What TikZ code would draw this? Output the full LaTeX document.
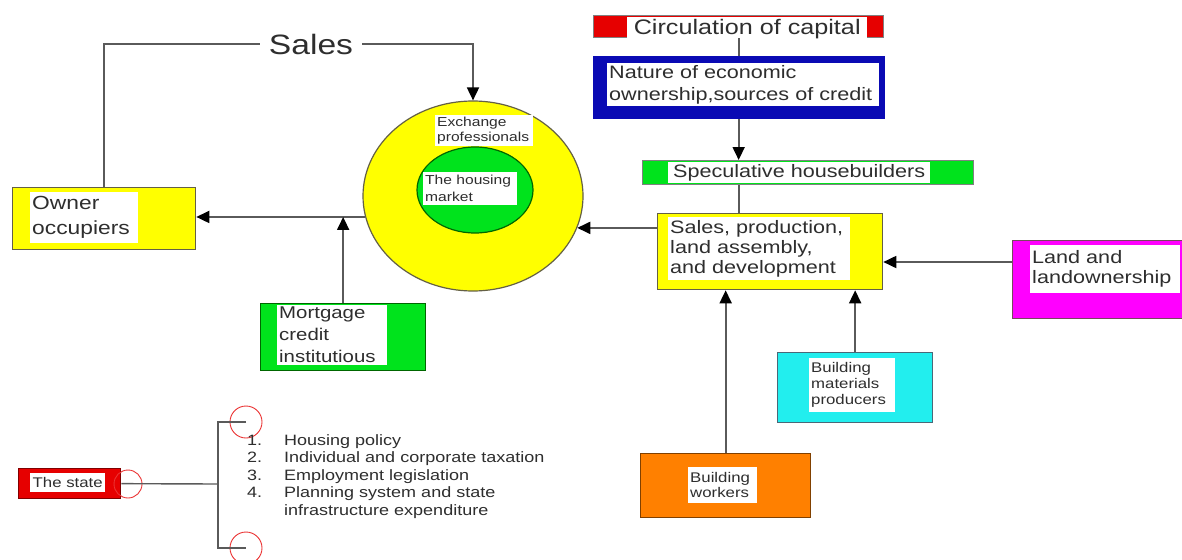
\documentclass[tikz,border=0pt]{standalone}
\usepackage{fontspec}
\setmainfont{Liberation Sans}[FakeStretch=1.2]
\usetikzlibrary{arrows.meta,shapes.geometric,calc}
\definecolor{txt}{HTML}{2E2E2E}
\definecolor{cn}{HTML}{5A5A5A}
\definecolor{cyel}{HTML}{FFFF00}
\definecolor{cgrn}{HTML}{00E31C}
\definecolor{cblu}{HTML}{0A0AB4}
\definecolor{cred}{HTML}{E60000}
\definecolor{cmag}{HTML}{FF00FF}
\definecolor{ccya}{HTML}{22EEEE}
\definecolor{cora}{HTML}{FF8000}
\newcommand\fsz[2]{\fontsize{#1}{#2}\selectfont}
\tikzset{
  box/.style={draw=#1, line width=1.3pt, inner sep=0pt, anchor=north west},
  wt/.style={fill=white, anchor=north west, inner sep=2pt, text=txt, align=left},
  conn/.style={draw=cn, line width=1.8pt},
  arr/.style={-{Triangle[length=13pt,width=12pt,color=black]}},
  ring/.style={circle, draw=cred!80, line width=0.9pt, inner sep=0pt}
}
\begin{document}
\begin{tikzpicture}[x=1pt,y=-1pt]
\useasboundingbox (0,0) rectangle (1182,559);
\fill[white] (0,0) rectangle (1182,559);

% ellipse
\node[ellipse, draw=black!70!yellow, line width=1.2pt, fill=cyel, minimum width=220, minimum height=190, inner sep=0pt] (ell) at (473,196) {};
\node[ellipse, draw=black!60!green, line width=1.2pt, fill=cgrn, minimum width=116, minimum height=86, inner sep=0pt] (inn) at (475,190) {};
\node[wt, text width=94pt, minimum height=27pt, font=\fsz{13}{15}] (exT) at (435,115) {Exchange\\professionals};
\node[wt, text width=90pt, minimum height=33pt, font=\fsz{13}{17}] (hmT) at (423,172) {The housing\\market};

% top chain
\node[box=gray, fill=cred, minimum width=290pt, minimum height=22pt] (circ) at (593,15) {};
\node[wt, minimum width=240pt, minimum height=18pt, font=\fsz{21}{22}] (circT) at (627,17) {Circulation of capital};
\node[box=cblu, fill=cblu, minimum width=291pt, minimum height=62pt] (nat) at (593,56) {};
\node[wt, text width=268pt, minimum height=43pt, font=\fsz{18}{22}] (natT) at (607,63) {Nature of economic\\ownership,sources of credit};
\node[box=gray, fill=cgrn, minimum width=331pt, minimum height=24pt] (spec) at (642,160) {};
\node[wt, minimum width=262pt, minimum height=20pt, font=\fsz{18}{20}] (specT) at (668,162) {Speculative housebuilders};
\node[box=black!70!yellow, fill=cyel, minimum width=225pt, minimum height=76pt] (spb) at (657,213) {};
\node[wt, text width=178pt, minimum height=63pt, font=\fsz{18}{20}] (spbT) at (668,217) {Sales, production,\\land assembly,\\and development};

% left side
\node[box=black!70!yellow, fill=cyel, minimum width=183pt, minimum height=62pt] (own) at (12,187) {};
\node[wt, text width=104pt, minimum height=51pt, font=\fsz{19}{25}] (ownT) at (30,192) {Owner\\occupiers};
\node[box=black!60!green, fill=cgrn, minimum width=165pt, minimum height=67pt] (mort) at (260,303) {};
\node[wt, text width=106pt, minimum height=57pt, font=\fsz{17}{22}] (mortT) at (277,305) {Mortgage\\credit\\institutious};
\node[font=\fsz{28}{30}, text=txt, inner sep=9pt] (salesL) at (311,44) {Sales};

% right side
\node[box=black!60!magenta, fill=cmag, minimum width=170pt, minimum height=78pt] (land) at (1012,240) {};
\node[wt, text width=146pt, minimum height=48pt, font=\fsz{18}{20}] (landT) at (1030,245) {Land and\\landownership};
\node[box=black!60!cyan, fill=ccya, minimum width=155pt, minimum height=70pt] (bmp) at (777,352) {};
\node[wt, text width=82pt, minimum height=54pt, font=\fsz{14}{16}] (bmpT) at (809,358) {Building\\materials\\producers};
\node[box=black!50!orange, fill=cora, minimum width=170pt, minimum height=64pt] (bw) at (640,453) {};
\node[wt, text width=65pt, minimum height=36pt, font=\fsz{14}{15}] (bwT) at (688,467) {Building\\workers};

% state
\node[box=black!50!red, fill=cred, minimum width=102pt, minimum height=30pt] (state) at (18,468) {};
\node[wt, minimum width=75pt, minimum height=19pt, font=\fsz{14}{16}] (stateT) at (30,473) {The state};
\node[ring, minimum size=28pt] (sc) at (128,484) {};
\node[ring, minimum size=32pt] (ct) at (246,422) {};
\node[ring, minimum size=32pt] (cb) at (246,548) {};
\coordinate (bt) at (218,422);
\coordinate (bm) at (218,484);
\coordinate (bb) at (218,548);
\node[anchor=north west, inner sep=0pt, text=txt, font=\fsz{15}{17.5}] (list) at (247,433)
  {\begin{tabular}{@{}p{37pt}@{}l@{}}
  1.&Housing policy\\
  2.&Individual and corporate taxation\\
  3.&Employment legislation\\
  4.&Planning system and state\\
    &infrastructure expenditure
  \end{tabular}};

% connectors
\coordinate (lw) at (1012,262);
\draw[conn] (circ.south) -- (circ.south |- nat.north);
\draw[conn,arr] (circ.south |- nat.south) -- (circ.south |- spec.north);
\draw[conn] (circ.south |- spec.south) -- (circ.south |- spb.north);
\draw[conn,arr] (spb.west |- ell.-17) -- (ell.-17);
\draw[conn,arr] (ell.191) -- (ell.191 -| own.east);
\draw[conn,arr] (mort.north) -- (mort.north |- ell.191);
\draw[conn] (own.north) |- (salesL.west);
\draw[conn,arr] (salesL.east) -| (ell.north);
\draw[conn,arr] (lw) -- (lw -| spb.east);
\draw[conn,arr] (bmp.north) -- (bmp.north |- spb.south);
\draw[conn,arr] (bw.north) -- (bw.north |- spb.south);
\draw[conn, line width=1.4pt] (state.east) -- (bm);
\draw[conn, line width=1.4pt] (ct.center) -- (bt) -- (bb) -- (cb.center);
\end{tikzpicture}
\end{document}
